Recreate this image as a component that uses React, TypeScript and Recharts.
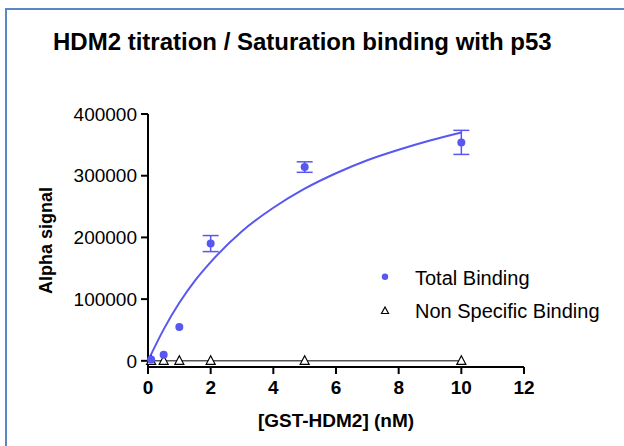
import React from "react";
import {
  ComposedChart,
  Scatter,
  Line,
  XAxis,
  YAxis,
  ErrorBar,
  Legend,
  Label,
} from "recharts";

// ---- data ----
const concentrations = [0.1, 0.5, 1, 2, 5, 10]; // [GST-HDM2] (nM)
const totalBinding = [2000, 10000, 55000, 190000, 314000, 354000];
const totalBindingErr = [0, 0, 0, 13000, 8500, 19500];
const nonSpecificBinding = [0, 0, 0, 0, 0, 0];

// fitted curve
const fitX = [0, 0.5, 1, 1.5, 2, 3, 4, 5, 6, 7, 8, 9, 10];
const fitTotal = [0, 51000, 94000, 130000, 160000, 210000, 248000, 279000, 304000, 325000, 342000, 357000, 370000];
const nsbFitX = [0, 10];
const nsbFitY = [0, 0];

const xTicks = [0, 2, 4, 6, 8, 10, 12];
const yTicks = [0, 100000, 200000, 300000, 400000];

const titleText = "HDM2 titration / Saturation binding with p53";
const xLabelText = "[GST-HDM2] (nM)";
const yLabelText = "Alpha signal";
const seriesNames = ["Total Binding", "Non Specific Binding"];

// ---- derived tables ----
const tbData = concentrations.map((x, i) => ({ x, y: totalBinding[i], err: totalBindingErr[i] }));
const nsbData = concentrations.map((x, i) => ({ x, y: nonSpecificBinding[i] }));
const fitData = fitX.map((x, i) => ({ x, y: fitTotal[i] }));
const nsbFit = nsbFitX.map((x, i) => ({ x, y: nsbFitY[i] }));

const BLUE = "#5858F0";
const FONT = "'Liberation Sans', Arial, sans-serif";

const Triangle = (props: any) => {
  const { cx, cy } = props;
  if (cx == null || cy == null) return null;
  return (
    <polygon
      points={`${cx},${cy - 5} ${cx - 4.5},${cy + 3.5} ${cx + 4.5},${cy + 3.5}`}
      fill="#fff"
      stroke="#000"
      strokeWidth={1.2}
    />
  );
};

const Dot = (props: any) => {
  const { cx, cy } = props;
  if (cx == null || cy == null) return null;
  return <circle cx={cx} cy={cy} r={4} fill={BLUE} />;
};

const renderLegend = (props: any) => {
  const payload = props.payload || [];
  const entries = seriesNames.filter((n) => payload.some((p: any) => p.value === n));
  return (
    <div style={{ fontFamily: FONT, fontSize: 20, color: "#000" }}>
      {entries.map((name, i) => (
        <div key={name} style={{ display: "flex", alignItems: "flex-start", height: 33, lineHeight: "33px" }}>
          <svg width={45} height={33} style={{ flex: "none" }}>
            {i === 0 ? (
              <circle cx={15} cy={14.7} r={3.2} fill={BLUE} />
            ) : (
              <polygon points="15,12 11.5,18.5 18.5,18.5" fill="#fff" stroke="#000" strokeWidth={1.2} />
            )}
          </svg>
          <span style={{ whiteSpace: "nowrap" }}>{name}</span>
        </div>
      ))}
    </div>
  );
};

export default function App() {
  return (
    <div style={{ position: "absolute", left: 0, top: 0, width: 624, height: 446, overflow: "hidden", background: "#fff" }}>
      <div
        style={{
          position: "absolute",
          left: 5,
          top: 8,
          width: 660,
          height: 480,
          border: "2px solid #5A86C6",
          boxSizing: "border-box",
        }}
      />
      <div
        style={{
          position: "absolute",
          left: 53,
          top: 30,
          fontFamily: FONT,
          fontWeight: "bold",
          fontSize: 24,
          lineHeight: "24px",
          color: "#000",
          whiteSpace: "nowrap",
        }}
      >
        {titleText}
      </div>
      <div style={{ position: "absolute", left: 0, top: 0 }}>
        <ComposedChart
          width={624}
          height={446}
          margin={{ top: 114, right: 100, bottom: 0, left: 0 }}
        >
          <XAxis
            type="number"
            dataKey="x"
            domain={[0, 12]}
            ticks={xTicks}
            allowDuplicatedCategory={false}
            height={79}
            stroke="#000"
            axisLine={{ stroke: "#000", strokeWidth: 2 }}
            tickLine={{ stroke: "#000", strokeWidth: 2 }}
            tickSize={7}
            tickMargin={7}
            tick={{ fill: "#000", fontSize: 19, fontWeight: "bold", fontFamily: FONT }}
          >
            <Label
              content={(p: any) => {
                const vb = p.viewBox || {};
                return (
                  <text
                    x={vb.x + vb.width / 2}
                    y={vb.y + 60}
                    textAnchor="middle"
                    fontFamily={FONT}
                    fontWeight="bold"
                    fontSize={19}
                    fill="#000"
                  >
                    {xLabelText}
                  </text>
                );
              }}
            />
          </XAxis>
          <YAxis
            type="number"
            dataKey="y"
            domain={[-10000, 400000]}
            ticks={yTicks}
            width={148}
            stroke="#000"
            axisLine={{ stroke: "#000", strokeWidth: 2 }}
            tickLine={{ stroke: "#000", strokeWidth: 2 }}
            tickSize={7}
            tickMargin={4}
            tick={{ fill: "#000", fontSize: 19, fontFamily: FONT }}
          >
            <Label
              content={(p: any) => {
                const vb = p.viewBox || {};
                const cx = vb.x + 46;
                const cy = vb.y + vb.height / 2;
                return (
                  <text
                    x={cx}
                    y={cy}
                    transform={`rotate(-90 ${cx} ${cy})`}
                    textAnchor="middle"
                    dominantBaseline="central"
                    fontFamily={FONT}
                    fontWeight="bold"
                    fontSize={18}
                    fill="#000"
                  >
                    {yLabelText}
                  </text>
                );
              }}
            />
          </YAxis>
          <Line
            data={nsbFit}
            dataKey="y"
            stroke="#000"
            strokeWidth={1}
            dot={false}
            legendType="none"
            isAnimationActive={false}
          />
          <Line
            data={fitData}
            dataKey="y"
            type="monotone"
            stroke={BLUE}
            strokeWidth={2}
            dot={false}
            legendType="none"
            isAnimationActive={false}
          />
          <Scatter
            name={seriesNames[1]}
            data={nsbData}
            dataKey="y"
            shape={Triangle}
            isAnimationActive={false}
          />
          <Scatter
            name={seriesNames[0]}
            data={tbData}
            dataKey="y"
            fill={BLUE}
            shape={Dot}
            isAnimationActive={false}
          >
            <ErrorBar dataKey="err" direction="y" width={8} stroke={BLUE} strokeWidth={1.5} />
          </Scatter>
          <Legend
            layout="horizontal"
            verticalAlign="middle"
            align="center"
            content={renderLegend}
            wrapperStyle={{ position: "absolute", left: 370, top: 262, width: 254 }}
          />
        </ComposedChart>
      </div>
    </div>
  );
}
